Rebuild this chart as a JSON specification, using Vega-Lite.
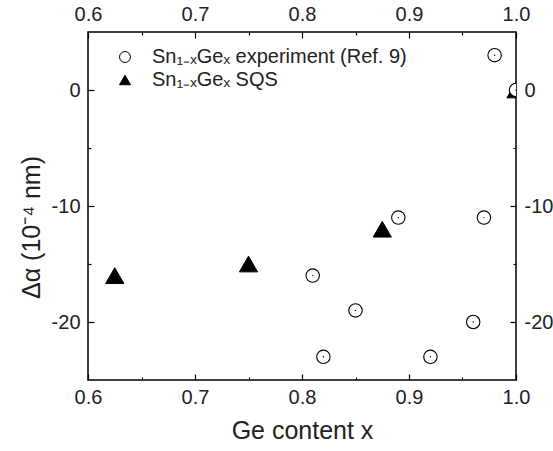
{
  "$schema": "https://vega.github.io/schema/vega-lite/v6.json",
  "width": 428,
  "height": 348,
  "autosize": "none",
  "padding": {"left": 88, "top": 32, "right": 37, "bottom": 71},
  "background": "white",
  "config": {
    "font": "Liberation Sans",
    "view": {"stroke": "black", "strokeWidth": 1.5},
    "axis": {"grid": false, "domain": false, "labelFontSize": 20, "labelColor": "#222", "titleFontSize": 25, "titleFontWeight": "normal", "titleColor": "#222", "tickColor": "black", "tickWidth": 1.2, "labelFlush": false, "labelOverlap": false}
  },
  "datasets": {
    "sqs": [
      {"x": 0.625, "y": -16, "series": "Sn₁₋ₓGeₓ SQS"},
      {"x": 0.75, "y": -15, "series": "Sn₁₋ₓGeₓ SQS"},
      {"x": 0.875, "y": -12, "series": "Sn₁₋ₓGeₓ SQS"},
      {"x": 1.0, "y": 0, "series": "Sn₁₋ₓGeₓ SQS"}
    ],
    "exp": [
      {"x": 0.98, "y": 3, "series": "Sn₁₋ₓGeₓ experiment (Ref. 9)"},
      {"x": 1.0, "y": 0, "series": "Sn₁₋ₓGeₓ experiment (Ref. 9)"},
      {"x": 0.89, "y": -11, "series": "Sn₁₋ₓGeₓ experiment (Ref. 9)"},
      {"x": 0.97, "y": -11, "series": "Sn₁₋ₓGeₓ experiment (Ref. 9)"},
      {"x": 0.81, "y": -16, "series": "Sn₁₋ₓGeₓ experiment (Ref. 9)"},
      {"x": 0.85, "y": -19, "series": "Sn₁₋ₓGeₓ experiment (Ref. 9)"},
      {"x": 0.96, "y": -20, "series": "Sn₁₋ₓGeₓ experiment (Ref. 9)"},
      {"x": 0.82, "y": -23, "series": "Sn₁₋ₓGeₓ experiment (Ref. 9)"},
      {"x": 0.92, "y": -23, "series": "Sn₁₋ₓGeₓ experiment (Ref. 9)"}
    ]
  },
  "layer": [
    {
      "data": {"name": "sqs"},
      "mark": {"type": "point", "filled": true, "size": 330, "stroke": "black", "strokeWidth": 1, "clip": true, "opacity": 1},
      "encoding": {
        "x": {"field": "x", "type": "quantitative", "scale": {"domain": [0.6, 1.0], "nice": false, "zero": false},
          "axis": {"orient": "bottom", "title": "Ge content x", "values": [0.6, 0.65, 0.7, 0.75, 0.8, 0.85, 0.9, 0.95, 1.0],
            "labelExpr": "abs(datum.value*10 - round(datum.value*10)) < 0.01 ? format(datum.value, '.1f') : ''",
            "tickSize": {"condition": {"test": "abs(datum.value*10 - round(datum.value*10)) < 0.01", "value": -6}, "value": -3},
            "labelPadding": 13, "titlePadding": 8}},
        "y": {"field": "y", "type": "quantitative", "scale": {"domain": [-25, 5], "nice": false, "zero": false},
          "axis": {"orient": "left", "title": "Δα (10⁻⁴ nm)", "values": [-20, -15, -10, -5, 0],
            "labelExpr": "datum.value % 10 == 0 ? '' + datum.value : ''",
            "tickSize": {"condition": {"test": "datum.value % 10 == 0", "value": -6}, "value": -3},
            "labelPadding": 14, "titlePadding": 7, "titleY": 195}},
        "shape": {"field": "series", "type": "nominal",
          "scale": {"domain": ["Sn₁₋ₓGeₓ experiment (Ref. 9)", "Sn₁₋ₓGeₓ SQS"], "range": ["circle", "triangle-up"]},
          "legend": {"title": null, "orient": "none", "legendX": 27, "legendY": 15, "labelFontSize": 20, "labelColor": "#222", "labelLimit": 0, "symbolSize": 120, "symbolStrokeColor": "black", "symbolStrokeWidth": 1, "rowPadding": 3, "labelOffset": 17, "symbolOpacity": 1,
            "encode": {"symbols": {"update": {"stroke": {"value": "black"}, "strokeWidth": {"value": 1}}}}}},
        "fill": {"field": "series", "type": "nominal",
          "scale": {"domain": ["Sn₁₋ₓGeₓ experiment (Ref. 9)", "Sn₁₋ₓGeₓ SQS"], "range": ["white", "black"]},
          "legend": {"title": null, "orient": "none", "legendX": 27, "legendY": 15, "labelFontSize": 20, "labelColor": "#222", "labelLimit": 0, "symbolSize": 120, "symbolStrokeColor": "black", "symbolStrokeWidth": 1, "rowPadding": 3, "labelOffset": 17, "symbolOpacity": 1,
            "encode": {"symbols": {"update": {"stroke": {"value": "black"}, "strokeWidth": {"value": 1}}}}}}
      }
    },
    {
      "data": {"name": "exp"},
      "mark": {"type": "point", "filled": true, "size": 180, "stroke": "black", "strokeWidth": 1.1, "clip": true, "opacity": 1},
      "encoding": {
        "x": {"field": "x", "type": "quantitative",
          "axis": {"orient": "top", "title": null, "values": [0.6, 0.65, 0.7, 0.75, 0.8, 0.85, 0.9, 0.95, 1.0],
            "labelExpr": "abs(datum.value*10 - round(datum.value*10)) < 0.01 ? format(datum.value, '.1f') : ''",
            "tickSize": {"condition": {"test": "abs(datum.value*10 - round(datum.value*10)) < 0.01", "value": -6}, "value": -3},
            "labelPadding": 14}},
        "y": {"field": "y", "type": "quantitative",
          "axis": {"orient": "right", "title": null, "values": [-20, -15, -10, -5, 0],
            "labelExpr": "datum.value % 10 == 0 ? '' + datum.value : ''",
            "tickSize": {"condition": {"test": "datum.value % 10 == 0", "value": -6}, "value": -3},
            "labelPadding": 14}},
        "shape": {"field": "series", "type": "nominal"},
        "fill": {"field": "series", "type": "nominal"}
      }
    },
    {
      "data": {"name": "exp"},
      "mark": {"type": "point", "filled": true, "size": 2, "color": "black", "clip": true, "opacity": 1},
      "encoding": {
        "x": {"field": "x", "type": "quantitative", "axis": null},
        "y": {"field": "y", "type": "quantitative", "axis": null}
      }
    }
  ],
  "resolve": {"axis": {"x": "independent", "y": "independent"}}
}
